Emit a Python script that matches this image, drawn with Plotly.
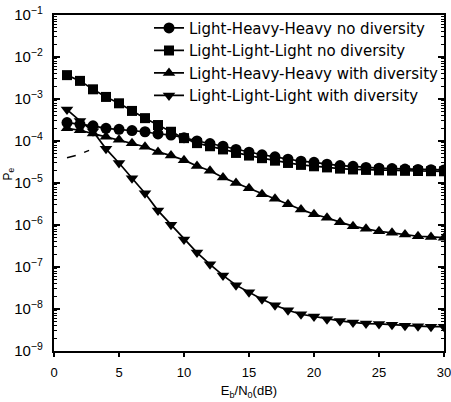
import plotly.graph_objects as go

ebn0 = list(range(1, 31))

lhh_no_div = [2.75e-4, 2.5e-4, 2.3e-4, 2.0e-4, 1.9e-4, 1.77e-4, 1.66e-4, 1.47e-4, 1.39e-4, 1.2e-4,
              1.0e-4, 8.7e-5, 7.5e-5, 6.3e-5, 5.4e-5, 4.7e-5, 4.2e-5, 3.7e-5, 3.3e-5, 3.1e-5,
              2.8e-5, 2.6e-5, 2.5e-5, 2.35e-5, 2.25e-5, 2.2e-5, 2.15e-5, 2.1e-5, 2.08e-5, 2.05e-5]
lll_no_div = [3.7e-3, 2.7e-3, 1.7e-3, 1.12e-3, 7.9e-4, 5.2e-4, 3.5e-4, 2.4e-4, 1.66e-4, 1.17e-4,
              8.9e-5, 7.5e-5, 6.3e-5, 5.2e-5, 4.5e-5, 3.9e-5, 3.4e-5, 3.0e-5, 2.7e-5, 2.5e-5,
              2.35e-5, 2.2e-5, 2.1e-5, 2.05e-5, 2.0e-5, 1.97e-5, 1.95e-5, 1.93e-5, 1.91e-5, 1.9e-5]
lhh_div = [2.0e-4, 1.8e-4, 1.5e-4, 1.26e-4, 1.07e-4, 8.9e-5, 7.3e-5, 5.5e-5, 4.5e-5, 3.5e-5,
           2.55e-5, 1.95e-5, 1.35e-5, 1.0e-5, 7.5e-6, 5.4e-6, 4.2e-6, 3.1e-6, 2.35e-6, 1.8e-6,
           1.49e-6, 1.17e-6, 9.4e-7, 8.1e-7, 7.1e-7, 6.5e-7, 5.9e-7, 5.4e-7, 5.2e-7, 5.0e-7]
lll_div = [5.6e-4, 3.0e-4, 1.7e-4, 6.5e-5, 3.0e-5, 1.3e-5, 5.7e-6, 2.2e-6, 1.02e-6, 4.5e-7,
           2.2e-7, 1.16e-7, 6.3e-8, 3.7e-8, 2.5e-8, 1.7e-8, 1.23e-8, 9.3e-9, 7.5e-9, 6.6e-9,
           5.7e-9, 5.2e-9, 4.8e-9, 4.5e-9, 4.4e-9, 4.2e-9, 4.0e-9, 3.9e-9, 3.8e-9, 3.8e-9]

frag_x = [1.0, 1.8, 2.7]
frag_y = [4.0e-5, 4.6e-5, 6.0e-5]

names = ["Light-Heavy-Heavy no diversity", "Light-Light-Light no diversity",
         "Light-Heavy-Heavy with diversity", "Light-Light-Light with diversity"]
series = [lhh_no_div, lll_no_div, lhh_div, lll_div]
symbols = ["circle", "square", "triangle-up", "triangle-down"]
sizes = [11, 10, 11, 11]

fig = go.Figure()
for nm, ys, sym, sz in zip(names, series, symbols, sizes):
    fig.add_trace(go.Scatter(x=ebn0, y=ys, name=nm, mode="lines+markers",
                             line=dict(color="black", width=1.7),
                             marker=dict(symbol=sym, size=sz, color="black")))

fig.add_trace(go.Scatter(x=frag_x, y=frag_y, mode="lines", showlegend=False,
                         line=dict(color="black", width=1.5, dash="dash"), hoverinfo="skip"))

fig.update_layout(
    width=451, height=402,
    margin=dict(l=54, r=7, t=14.5, b=51, autoexpand=False),
    paper_bgcolor="white", plot_bgcolor="white",
    font=dict(family="Liberation Sans, Arial, sans-serif", color="black", size=12),
    showlegend=True,
    legend=dict(x=1.0, xanchor="right", y=1.01, yanchor="top",
                bgcolor="rgba(0,0,0,0)",
                font=dict(family="DejaVu Sans, sans-serif", size=15),
                tracegroupgap=0, itemwidth=30),
    annotations=[dict(text="P<sub>e</sub>", textangle=-90, xref="paper", yref="paper",
                      x=-0.115, y=0.526, xanchor="center", yanchor="middle",
                      showarrow=False, font=dict(size=12))],
)
fig.update_xaxes(range=[0, 30], tickvals=[0, 5, 10, 15, 20, 25, 30],
                 ticks="outside", ticklen=4, tickwidth=1.5, tickcolor="black",
                 showline=True, linecolor="black", linewidth=1.5, mirror=True,
                 showgrid=False, zeroline=False, automargin=False,
                 ticklabeloverflow="allow",
                 tickfont=dict(size=13), ticklabelstandoff=5,
                 title=dict(text="E<sub>b</sub>/N<sub>0</sub>(dB)", font=dict(size=13), standoff=7))
fig.update_yaxes(type="log", range=[-9, -1], dtick=1, exponentformat="power",
                 ticks="inside", ticklen=6, tickwidth=1.5, tickcolor="black",
                 minor=dict(ticks="inside", ticklen=3, tickcolor="black", tickwidth=1, showgrid=False),
                 showline=True, linecolor="black", linewidth=1.5, mirror="ticks",
                 showgrid=False, zeroline=False, automargin=False,
                 ticklabeloverflow="allow",
                 tickfont=dict(size=12), ticklabelstandoff=7)

fig.write_html("out.html", config={"displayModeBar": False},
               post_script="document.body.style.margin='0';document.body.style.overflow='hidden';")
